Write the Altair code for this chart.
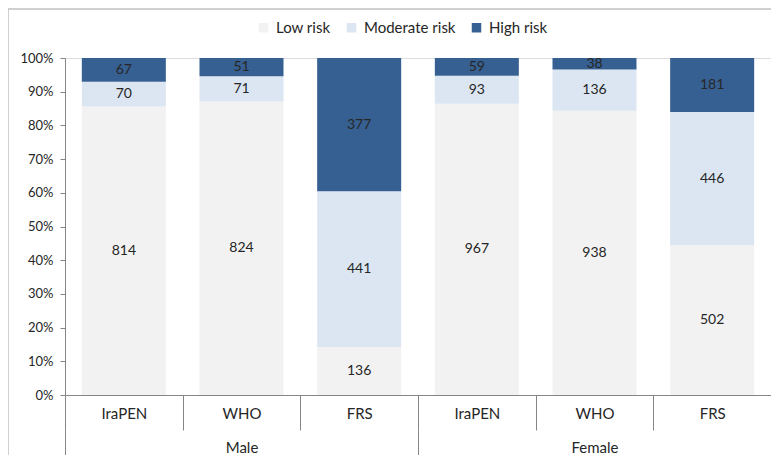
import altair as alt
import pandas as pd

sexes = ["Male", "Male", "Male", "Female", "Female", "Female"]
models = ["IraPEN", "WHO", "FRS", "IraPEN", "WHO", "FRS"]
low = [814, 824, 136, 967, 938, 502]
moderate = [70, 71, 441, 93, 136, 446]
high = [67, 51, 377, 59, 38, 181]
levels = ["Low risk", "Moderate risk", "High risk"]
colors = ["#f2f2f2", "#dce6f2", "#376092"]
y_ticks = [i / 10 for i in range(11)]

rows = []
for i, (s, m) in enumerate(zip(sexes, models)):
    key = f"{s}|{m}"
    for j, (lvl, vals) in enumerate(zip(levels, [low, moderate, high])):
        rows.append({"key": key, "sex": s, "model": m, "risk": lvl, "order": j, "count": vals[i]})
df = pd.DataFrame(rows)
keys = [f"{s}|{m}" for s, m in zip(sexes, models)]
groups = ["Male", "Female"]

W, H = 706, 337
FONT = "Lato"
TXT = "#262626"
AX = "#868686"

base = alt.Chart(df).transform_stack(
    stack="count",
    groupby=["key"],
    as_=["y0", "y1"],
    offset="normalize",
    sort=[alt.SortField("order", order="ascending")],
).transform_calculate(mid="(datum.y0 + datum.y1) / 2")

xscale = alt.Scale(domain=keys, paddingInner=0, paddingOuter=0)
yscale = alt.Scale(domain=[0, 1])
xaxis = alt.Axis(
    title=None,
    labelExpr="split(datum.label, '|')[1]",
    tickBand="extent",
    tickSize=35,
    labelPadding=-24,
    labelAngle=0,
    labelFontSize=15,
    labelColor=TXT,
    domainColor=AX,
    tickColor=AX,
)
yaxis = alt.Axis(
    title=None,
    format=".0%",
    values=y_ticks,
    grid=False,
    tickSize=5,
    labelPadding=7,
    labelFontSize=13,
    labelColor=TXT,
    domainColor=AX,
    tickColor=AX,
)

bars = base.mark_bar(width=alt.RelativeBandSize(0.714)).encode(
    x=alt.X("key:N", scale=xscale, axis=xaxis),
    y=alt.Y("y0:Q", scale=yscale, axis=yaxis),
    y2="y1:Q",
    color=alt.Color(
        "risk:N",
        scale=alt.Scale(domain=levels, range=colors),
        legend=alt.Legend(
            title=None,
            orient="none",
            direction="horizontal",
            legendX=191,
            legendY=-38,
            symbolType="square",
            symbolSize=90,
            symbolStrokeWidth=0,
            labelFontSize=15,
            labelColor=TXT,
            labelFont=FONT,
            columnPadding=13,
            labelOffset=5,
        ),
    ),
    order=alt.Order("order:Q"),
)

labels = base.mark_text(fontSize=14, color=TXT, font=FONT).encode(
    x=alt.X("key:N", scale=xscale, axis=xaxis),
    y=alt.Y("mid:Q", scale=yscale, axis=yaxis),
    text="count:Q",
)

group_axis = alt.Chart(pd.DataFrame({"sex": groups})).mark_point(opacity=0).encode(
    x=alt.X(
        "sex:N",
        scale=alt.Scale(domain=groups, paddingInner=0, paddingOuter=0),
        axis=alt.Axis(
            title=None,
            orient="bottom",
            offset=35,
            domain=False,
            tickBand="extent",
            tickSize=32,
            labelPadding=-22,
            labelAngle=0,
            labelFontSize=15,
            labelColor=TXT,
            tickColor=AX,
        ),
    )
)

frame_left = alt.Chart(pd.DataFrame({"a": [0]})).mark_rule(color="#c0c0c0", strokeWidth=1.5).encode(
    x=alt.value(-57), y=alt.value(-49), y2=alt.value(H + 70)
)
frame_top = alt.Chart(pd.DataFrame({"a": [0]})).mark_rule(color="#c0c0c0", strokeWidth=1.5).encode(
    x=alt.value(-57), x2=alt.value(W + 10), y=alt.value(-49)
)

chart = (
    alt.layer(alt.layer(bars, labels), group_axis, frame_left, frame_top)
    .resolve_scale(x="independent")
    .properties(
        width=W,
        height=H,
        autosize=alt.AutoSizeParams(type="none"),
        padding={"left": 57, "top": 50, "right": 0, "bottom": 60},
        background="white",
    )
    .configure_view(stroke=None)
    .configure(font=FONT)
)

chart.save("out.html", embed_options={"renderer": "svg", "actions": False})
